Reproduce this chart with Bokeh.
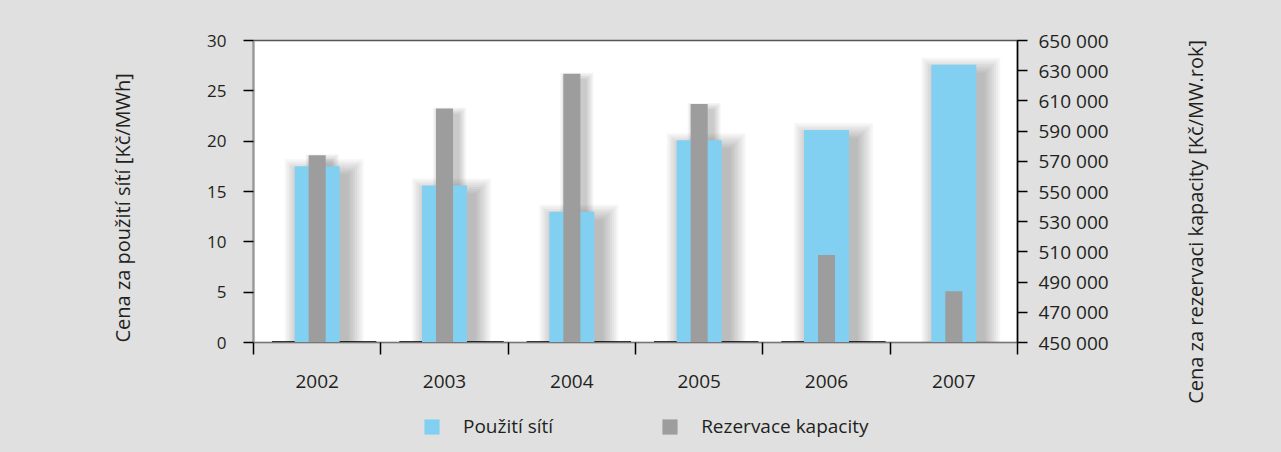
import math
from bokeh.plotting import figure
from bokeh.layouts import column, row
from bokeh.models import Range1d, LinearAxis, FixedTicker, Legend, LegendItem, Title, Div
from bokeh.embed import file_html
from bokeh.resources import INLINE

# ---- data ----
years = ["2002", "2003", "2004", "2005", "2006", "2007"]
site_use = [17.5, 15.6, 13.0, 20.1, 21.1, 27.6]                        # Kč/MWh (left axis)
capacity = [574000, 605000, 628000, 608000, 508000, 484000]            # Kč/MW.rok (right axis)
zero_series = [0, 0, 0, 0, 0, None]                                     # flat third series at 0
left_ticks = [0, 5, 10, 15, 20, 25, 30]
right_ticks = list(range(450000, 650001, 20000))
series_names = ["Použití sítí", "Rezervace kapacity"]
left_title = "Cena za použití sítí [Kč/MWh]"
right_title = "Cena za rezervaci kapacity [Kč/MW.rok]"

# ---- style ----
BLUE = "#81d0f1"
GREY = "#9c9d9c"
BG = "#e0e0e0"
FONT = "Open Sans"
TXT = "#231f20"

W, RW = 1145, 135
PH, LH = 410, 41
H = PH + LH
BL, BR, BT, BB = 253, 128, 40, 68
FW, FH = W - BL - BR, PH - BT - BB

p = figure(width=W, height=PH, x_range=Range1d(0, 6), y_range=Range1d(0, 30),
           output_backend="svg", toolbar_location=None,
           min_border_left=BL, min_border_right=BR, min_border_top=BT, min_border_bottom=BB,
           background_fill_color="white", border_fill_color=BG,
           outline_line_color="#555555", outline_line_width=1.5)
p.extra_y_ranges = {"cap": Range1d(450000, 650000)}
p.grid.visible = False

xs = [i + 0.5 for i in range(len(years))]
BW_BLUE = 0.353
BW_GREY = 0.134

# soft drop shadows (approximation of a blurred shadow)
px_x = 6 / FW
px_yl = 30 / FH
px_yr = 200000 / FH


def shadow(vals, width, base, pxy, spread, dx, dy, n, a, rng=None):
    for k in range(1, n + 1):
        s = spread * k / n
        left = [x - width / 2 + (dx - s) * px_x for x in xs]
        right = [x + width / 2 + (dx + s) * px_x for x in xs]
        top = [v + (s - dy) * pxy for v in vals]
        bottom = [base for _ in vals]
        kw = dict(y_range_name=rng) if rng else {}
        p.quad(left=left, right=right, top=top, bottom=bottom,
               fill_color="black", fill_alpha=a, line_color=None, **kw)


shadow(site_use, BW_BLUE, 0, px_yl, 17, 7, 10, 8, 0.036)
shadow(capacity, BW_GREY, 450000, px_yr, 8, 5, 7, 5, 0.045, "cap")

# flat zero series segments
zi = [i for i, v in enumerate(zero_series) if v is not None]
p.segment(x0=[i + 0.145 for i in zi], x1=[i + 0.965 for i in zi],
          y0=[zero_series[i] for i in zi], y1=[zero_series[i] for i in zi],
          line_color="black", line_width=2.4)

p.vbar(x=xs, top=site_use, bottom=0, width=BW_BLUE, fill_color=BLUE, line_color=None)
p.vbar(x=xs, top=capacity, bottom=450000, width=BW_GREY, fill_color=GREY,
       line_color=None, y_range_name="cap")

# ---- axes ----
xa = p.xaxis[0]
xa.ticker = FixedTicker(ticks=xs, minor_ticks=list(range(len(years) + 1)))
xa.major_label_overrides = {x: y for x, y in zip(xs, years)}
xa.major_tick_line_color = None
xa.major_tick_out = 0
xa.major_tick_in = 0
xa.minor_tick_out = 12
xa.minor_tick_in = 0
xa.minor_tick_line_color = "black"
xa.minor_tick_line_width = 1.5
xa.axis_line_color = "#777777"
xa.axis_line_width = 1
xa.major_label_standoff = 20
xa.major_label_text_font = FONT
xa.major_label_text_font_size = "19px"
xa.major_label_text_color = TXT

ya = p.yaxis[0]
ya.ticker = FixedTicker(ticks=left_ticks)
ya.major_tick_out = 10
ya.major_tick_in = 0
ya.major_tick_line_color = "black"
ya.major_tick_line_width = 1.5
ya.minor_tick_line_color = None
ya.axis_line_color = "#999999"
ya.axis_line_width = 2
ya.major_label_standoff = 17
ya.major_label_text_font = FONT
ya.major_label_text_font_size = "17px"
ya.major_label_text_color = TXT

ra = LinearAxis(y_range_name="cap", ticker=FixedTicker(ticks=right_ticks),
                major_label_overrides={t: f"{t:,}".replace(",", " ") for t in right_ticks})
ra.major_tick_out = 10
ra.major_tick_in = 0
ra.major_tick_line_color = "black"
ra.major_tick_line_width = 1.5
ra.minor_tick_line_color = None
ra.axis_line_color = "black"
ra.axis_line_width = 1.5
ra.major_label_standoff = 11
ra.major_label_text_font = FONT
ra.major_label_text_font_size = "19px"
ra.major_label_text_color = TXT
p.add_layout(ra, "right")

# ---- left title ----
p.add_layout(Title(text=left_title, align="left", offset=0, standoff=138,
                   text_font=FONT, text_font_size="20px", text_font_style="normal",
                   text_color=TXT), "left")

# ---- legend strip below the chart ----
lf = figure(width=W, height=LH, x_range=Range1d(0, 6), y_range=Range1d(1e6, 1e6 + 1),
            output_backend="svg", toolbar_location=None,
            x_axis_location=None, y_axis_location=None,
            min_border_left=BL, min_border_right=BR, min_border_top=0, min_border_bottom=0,
            background_fill_color=BG, background_fill_alpha=0,
            border_fill_color=BG, outline_line_color=None)
lf.grid.visible = False
# same series, lying outside the strip's visible range; they only feed the legend keys
kb = lf.vbar(x=xs, top=site_use, bottom=0, width=BW_BLUE, fill_color=BLUE, line_color=None)
kg = lf.vbar(x=xs, top=capacity, bottom=450000, width=BW_GREY, fill_color=GREY, line_color=None)
lg = Legend(items=[LegendItem(label=series_names[0], renderers=[kb]),
                   LegendItem(label=series_names[1], renderers=[kg])],
            location=(169, 12), orientation="horizontal",
            glyph_width=19, glyph_height=19, label_height=19,
            label_standoff=22, padding=0, margin=0, spacing=107,
            border_line_color=None, background_fill_alpha=0,
            label_text_font=FONT, label_text_font_size="19px", label_text_color=TXT)
lf.add_layout(lg, "center")

# ---- right axis title (vertical text reading upwards) ----
title_div = Div(
    text=(f'<div style="width:{RW}px;height:{H}px;display:flex;align-items:center;">'
          f'<span style="writing-mode:vertical-rl;transform:rotate(180deg);'
          f'margin-left:33px;margin-top:-17px;font-family:\'Open Sans\';font-size:20px;'
          f'line-height:26px;color:{TXT};white-space:nowrap;">{right_title}</span></div>'),
    width=RW, height=H, styles={"background-color": BG})

layout = row(column(p, lf, spacing=0, styles={"background-color": BG}), title_div,
             spacing=0, styles={"background-color": BG})
open("out.html", "w").write(file_html(layout, INLINE))
